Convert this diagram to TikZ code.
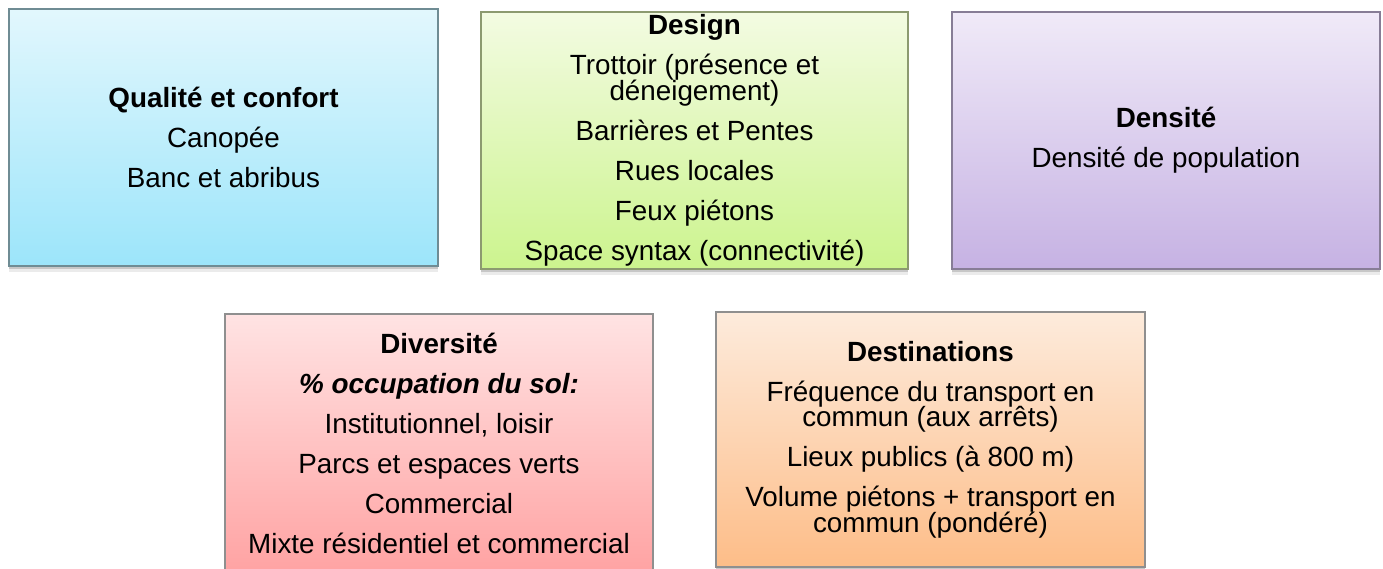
\documentclass[tikz,border=0pt]{standalone}
\usepackage{fontspec}
\setmainfont{Liberation Sans}
\usetikzlibrary{shadows}
\definecolor{b1t}{HTML}{E2F7FD}\definecolor{b1b}{HTML}{9CE5FA}\definecolor{b1d}{HTML}{6F8C94}
\definecolor{b2t}{HTML}{F3FBE2}\definecolor{b2b}{HTML}{CCF48E}\definecolor{b2d}{HTML}{8C9A70}
\definecolor{b3t}{HTML}{F0EAF8}\definecolor{b3b}{HTML}{C6B2E3}\definecolor{b3d}{HTML}{877D96}
\definecolor{b4t}{HTML}{FFE3E3}\definecolor{b4b}{HTML}{FFA3A3}\definecolor{b4d}{HTML}{8F8F8F}
\definecolor{b5t}{HTML}{FDEBDC}\definecolor{b5b}{HTML}{FDBD88}\definecolor{b5d}{HTML}{8F8F8F}
\newcommand{\cardfont}{\fontsize{27.8}{25.5}\selectfont\lineskiplimit=-100pt\relax\lineskip=0pt\relax}
\tikzset{
  card/.style={rectangle, line width=1.2pt, inner sep=0pt, align=center,
    font=\cardfont,
    drop shadow={shadow xshift=0pt, shadow yshift=-6pt, opacity=0.08, fill=black},
    drop shadow={shadow xshift=0pt, shadow yshift=-3pt, opacity=0.15, fill=black}},
}
\newcommand{\gap}{\\[14.5pt]}
\begin{document}
\begin{tikzpicture}[x=1pt,y=-1pt]
\useasboundingbox[fill=white] (0,0) rectangle (1383,569);
\node[card, draw=b1d, top color=b1t, bottom color=b1b, minimum width=429pt, minimum height=257pt]
  (qual) at (223.5,137.5)
  {\textbf{Qualité et confort}\gap Canopée\gap Banc et abribus};
\node[card, draw=b2d, top color=b2t, bottom color=b2b, minimum width=427pt, minimum height=257pt]
  (design) at (694.5,140.5)
  {\textbf{Design}\gap Trottoir (présence et\\ déneigement)\gap Barrières et Pentes\gap Rues locales\gap Feux piétons\gap Space syntax (connectivité)};
\node[card, draw=b3d, top color=b3t, bottom color=b3b, minimum width=428pt, minimum height=257pt]
  (dens) at (1166,140.5)
  {\textbf{Densité}\gap Densité de population};
\node[card, draw=b4d, top color=b4t, bottom color=b4b, minimum width=428pt, minimum height=258pt]
  (div) at (439,443)
  {\textbf{Diversité}\gap \textbf{\textit{\% occupation du sol:}}\gap Institutionnel, loisir\gap Parcs et espaces verts\gap Commercial\gap Mixte résidentiel et commercial};
\node[card, draw=b5d, top color=b5t, bottom color=b5b, minimum width=429pt, minimum height=255pt]
  (dest) at (930.5,439.5)
  {\textbf{Destinations}\gap Fréquence du transport en\\ commun (aux arrêts)\gap Lieux publics (à 800 m)\gap Volume piétons + transport en\\ commun (pondéré)};
\end{tikzpicture}
\end{document}
